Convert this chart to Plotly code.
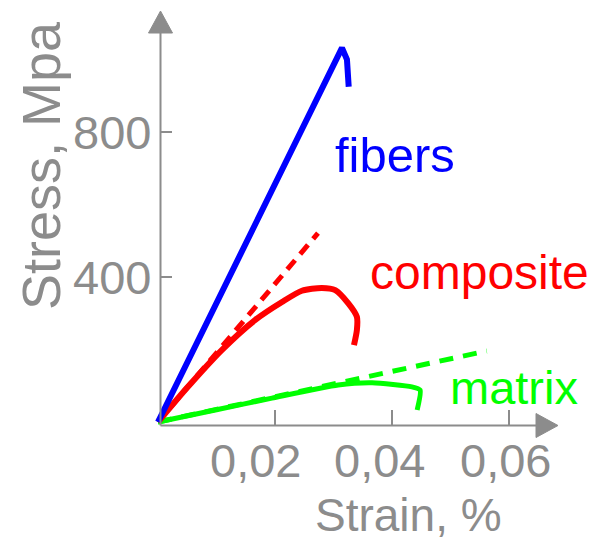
import plotly.graph_objects as go

# ---- data (strain, stress MPa) ----
fiber_strain = [0.0, 0.03145, 0.0323, 0.0326]
fiber_stress = [0, 1032, 1000, 925]

comp_strain = [0.0, 0.005, 0.01094, 0.01658, 0.0212, 0.0246, 0.0280, 0.0303, 0.0325, 0.0340, 0.0340, 0.0335]
comp_stress = [0, 95, 199, 281, 331, 362, 370, 364, 328, 290, 254, 212]
comp_lin_strain = [0.0, 0.02735]
comp_lin_stress = [0, 521]

matrix_strain = [0.0, 0.01, 0.01949, 0.0308, 0.0366, 0.0434, 0.0448, 0.0443]
matrix_stress = [0, 34, 66, 102, 108, 97, 88, 33]
matrix_lin_strain = [0.0, 0.0562]
matrix_lin_stress = [0, 196]

x_ticks = [0.02, 0.04, 0.06]
x_tick_labels = ["0,02", "0,04", "0,06"]
y_ticks = [400, 800]
y_tick_labels = ["400", "800"]

# ---- pixel <-> data helpers (layout only) ----
W, H = 595, 542
OFF = 8                      # page body margin of the browser
X0, XS = 158.0, 5850.0       # px of strain 0, px per unit strain
Y0, YS = 422.0, 0.3625       # px of stress 0, px per MPa
def sx(px):
    return (px - X0) / XS
def sy(py):
    return (Y0 - py) / YS

GRAY = "#8c8c8c"
FONT = "Liberation Sans, Arial, sans-serif"
BLUE, RED, GREEN = "#0000ff", "#ff0000", "#00ff00"

fig = go.Figure()
fig.add_trace(go.Scatter(x=comp_lin_strain, y=comp_lin_stress, mode="lines",
                         line=dict(color=RED, width=5, dash="12px,8px")))
fig.add_trace(go.Scatter(x=matrix_lin_strain, y=matrix_lin_stress, mode="lines",
                         line=dict(color=GREEN, width=5, dash="14px,10px")))
fig.add_trace(go.Scatter(x=matrix_strain, y=matrix_stress, mode="lines",
                         line=dict(color=GREEN, width=5, shape="spline", smoothing=0.6)))
fig.add_trace(go.Scatter(x=comp_strain, y=comp_stress, mode="lines",
                         line=dict(color=RED, width=6, shape="spline", smoothing=0.7)))
fig.add_trace(go.Scatter(x=fiber_strain, y=fiber_stress, mode="lines",
                         line=dict(color=BLUE, width=6)))

shapes = []
ax_x = sx(160.5)
ax_y = sy(425.5)
shapes.append(dict(type="line", x0=ax_x, x1=ax_x, y0=ax_y, y1=sy(30), xref="x", yref="y",
                   line=dict(color=GRAY, width=2)))
shapes.append(dict(type="line", x0=ax_x, x1=sx(540), y0=ax_y, y1=ax_y, xref="x", yref="y",
                   line=dict(color=GRAY, width=2)))
shapes.append(dict(type="path", xref="x", yref="y", fillcolor=GRAY, line=dict(color=GRAY, width=1),
                   path=f"M {sx(148.5)} {sy(33)} L {sx(160.5)} {sy(11)} L {sx(172.5)} {sy(33)} Z"))
shapes.append(dict(type="path", xref="x", yref="y", fillcolor=GRAY, line=dict(color=GRAY, width=1),
                   path=f"M {sx(536)} {sy(413.5)} L {sx(558)} {sy(425.5)} L {sx(536)} {sy(437.5)} Z"))
for t in x_ticks:
    shapes.append(dict(type="line", x0=t, x1=t, y0=ax_y, y1=sy(410), xref="x", yref="y",
                       line=dict(color=GRAY, width=2)))
for t in y_ticks:
    shapes.append(dict(type="line", x0=ax_x, x1=sx(172), y0=t, y1=t, xref="x", yref="y",
                       line=dict(color=GRAY, width=2)))

annotations = []
x_label_px = [255.5, 379, 505]
for t, lab, cx in zip(x_ticks, x_tick_labels, x_label_px):
    annotations.append(dict(x=sx(cx), y=sy(460), text=lab, showarrow=False, xanchor="center",
                            yanchor="middle", font=dict(family=FONT, size=47, color=GRAY)))
for t, lab in zip(y_ticks, y_tick_labels):
    annotations.append(dict(x=sx(153), y=t, text=lab, showarrow=False, xanchor="right",
                            yanchor="middle", font=dict(family=FONT, size=47, color=GRAY)))
annotations.append(dict(x=sx(408), y=sy(515), text="Strain, %", showarrow=False, xanchor="center",
                        yanchor="middle", font=dict(family=FONT, size=46, color=GRAY)))
annotations.append(dict(x=sx(41), y=sy(166), text="Stress, Mpa", showarrow=False, textangle=-90,
                        xanchor="center", yanchor="middle", font=dict(family=FONT, size=54, color=GRAY)))
annotations.append(dict(x=sx(395), y=sy(155), text="fibers", showarrow=False, xanchor="center",
                        yanchor="middle", font=dict(family=FONT, size=49, color=BLUE)))
annotations.append(dict(x=sx(479), y=sy(272), text="composite", showarrow=False, xanchor="center",
                        yanchor="middle", font=dict(family=FONT, size=48, color=RED)))
annotations.append(dict(x=sx(514), y=sy(387), text="matrix", showarrow=False, xanchor="center",
                        yanchor="middle", font=dict(family=FONT, size=47, color=GREEN)))

fig.update_layout(
    width=W - OFF, height=H - OFF, margin=dict(l=0, r=0, t=0, b=0),
    paper_bgcolor="white", plot_bgcolor="white", showlegend=False,
    xaxis=dict(range=[sx(OFF), sx(W)], visible=False, fixedrange=True),
    yaxis=dict(range=[sy(H), sy(OFF)], visible=False, fixedrange=True),
    shapes=shapes, annotations=annotations,
)
fig.write_html("out.html")
